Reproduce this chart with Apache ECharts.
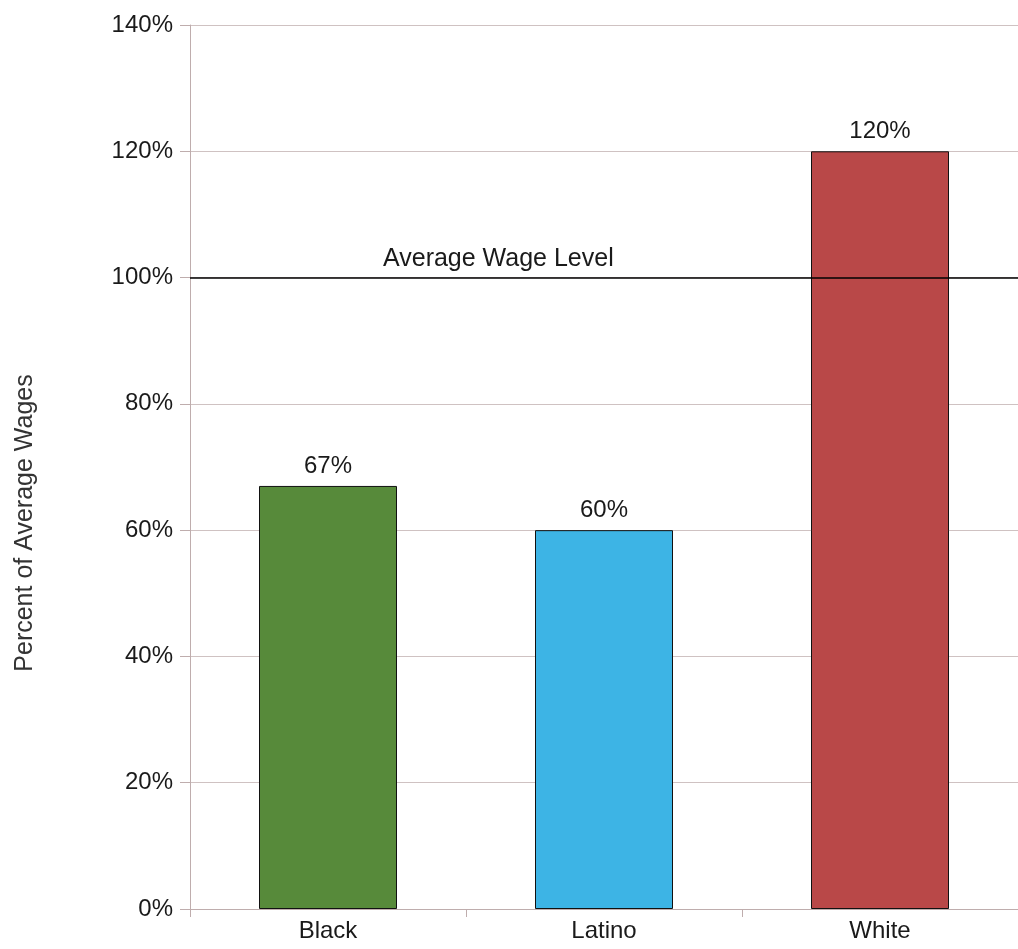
<!DOCTYPE html>
<html><head><meta charset="utf-8">
<script src="https://cdn.jsdelivr.net/npm/echarts@6/dist/echarts.min.js"></script>
<style>html,body{margin:0;padding:0;background:#fff}#c{width:1018px;height:949px}</style>
</head><body><div id="c"></div>
<script>
const categories = ['Black', 'Latino', 'White'];
const values = [67, 60, 120];
const barColors = ['#578a3a', '#3db4e5', '#b94848'];
const yTicks = [0, 20, 40, 60, 80, 100, 120, 140];
const referenceValue = 100;
const referenceLabel = 'Average Wage Level';
const yAxisTitle = 'Percent of Average Wages';

const chart = echarts.init(document.getElementById('c'));
const font = "'Liberation Sans', Arial, sans-serif";
const fs = 24;
chart.setOption({
  animation: false,
  grid: { left: 190, right: 0, top: 25, bottom: 40, containLabel: false },
  xAxis: {
    type: 'category', data: categories,
    axisLine: { lineStyle: { color: '#bfadad', width: 1 } },
    axisTick: { show: true, alignWithLabel: false, length: 8, lineStyle: { color: '#bfadad' } },
    axisLabel: { color: '#1a1a1a', fontSize: fs, fontFamily: font, margin: 10 }
  },
  yAxis: {
    type: 'value', min: 0, max: 140, interval: 20,
    name: yAxisTitle, nameLocation: 'middle', nameGap: 152,
    nameTextStyle: { color: '#333', fontSize: 25, fontFamily: font, padding: [0, 0, 0, -112] },
    axisLine: { show: true, lineStyle: { color: '#bfadad' } },
    axisTick: { show: true, length: 10, lineStyle: { color: '#bfadad' } },
    splitLine: { lineStyle: { color: '#cfc2c2' } },
    axisLabel: { color: '#1a1a1a', fontSize: fs, fontFamily: font, margin: 17,
      formatter: v => yTicks.includes(v) ? v + '%' : '' }
  },
  series: [{
    type: 'bar', barWidth: '50%',
    data: values.map((v, i) => ({ value: v, itemStyle: { color: barColors[i] } })),
    itemStyle: { borderColor: '#111', borderWidth: 1 },
    label: { show: true, position: 'top', distance: 8, formatter: '{c}%', color: '#1a1a1a', fontSize: fs, fontFamily: font },
    markLine: {
      silent: true, symbol: 'none',
      lineStyle: { color: '#000', width: 1.5, type: 'solid' },
      label: { show: true, position: 'insideStartTop', formatter: referenceLabel, color: '#1a1a1a', fontSize: 25, fontFamily: font, distance: [193, 6] },
      data: [{ yAxis: referenceValue }]
    }
  }]
});
</script></body></html>
